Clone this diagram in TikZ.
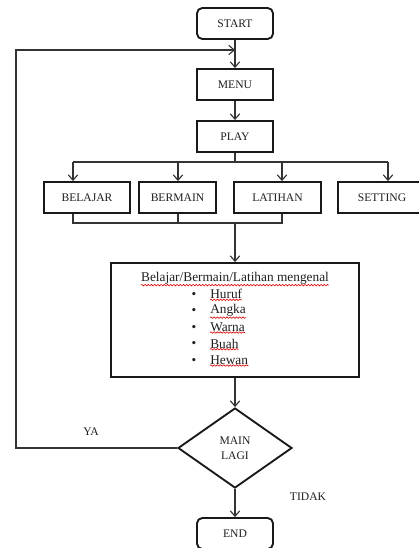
\documentclass[tikz,border=0pt]{standalone}
\usepackage{fontspec}
\setmainfont{Liberation Serif}
\usetikzlibrary{shapes.geometric,arrows.meta,decorations.pathmorphing}
\begin{document}
\begin{tikzpicture}[x=0.75pt,y=-0.75pt]
% gaya garis dan kotak
\tikzstyle{kotak} = [draw=black!90, line width=1.4pt, fill=white, text=black!88,
  font=\fontsize{8.7}{11.5}\selectfont, inner sep=0pt, minimum height=23.25pt]
\tikzstyle{kotakr} = [kotak, rounded corners=4pt]
\tikzstyle{pilihan} = [kotak, diamond, align=center, minimum width=85.5pt, minimum height=60pt]
\tikzstyle{panah} = [draw=black!80, line width=0.85pt, -{Straight Barb[length=4pt,width=7pt]}]
\tikzstyle{garis} = [draw=black!80, line width=0.85pt]
\tikzstyle{teks} = [text=black!88, font=\fontsize{10}{12}\selectfont, inner sep=0pt]
\tikzstyle{label} = [text=black!88, font=\fontsize{8.7}{10}\selectfont, inner sep=0pt]
\tikzstyle{salah} = [draw=red!85!black, line width=0.45pt, decorate,
  decoration={snake, segment length=2.4pt, amplitude=0.55pt}]
\useasboundingbox (0,0) rectangle (418,548);
% dibuat kotak proses
\node[kotakr, minimum width=57pt] (start) at (235,23.5) {START};
\node[kotak, minimum width=57pt] (menu) at (235,84.5) {MENU};
\node[kotak, minimum width=57pt] (play) at (235,136.5) {PLAY};
\node[kotak, minimum width=64.5pt] (belajar) at (87,197.5) {BELAJAR};
\node[kotak, minimum width=57.75pt] (bermain) at (177.5,197.5) {BERMAIN};
\node[kotak, minimum width=65.25pt] (latihan) at (277.5,197.5) {LATIHAN};
\node[kotak, minimum width=66pt] (setting) at (382,197.5) {SETTING};
\node[kotak, minimum width=186pt, minimum height=85.5pt] (materi) at (235,320) {};
\node[pilihan] (lagi) at (235,448) {MAIN\\LAGI};
\node[kotakr, minimum width=57pt] (end) at (235,533.5) {END};
% isi kotak materi
\node[teks] (judul) at (235,278) {Belajar/Bermain/Latihan mengenal};
\node[teks] (b1) at (194,295) {\textbullet};
\node[teks] (b2) at (194,311.5) {\textbullet};
\node[teks] (b3) at (194,328) {\textbullet};
\node[teks] (b4) at (194,344.5) {\textbullet};
\node[teks] (b5) at (194,361) {\textbullet};
\node[teks, anchor=west] (huruf) at (210,294) {Huruf};
\node[teks, anchor=west] (angka) at (210,310.5) {Angka};
\node[teks, anchor=west] (warna) at (210,327) {Warna};
\node[teks, anchor=west] (buah) at (210,343.5) {Buah};
\node[teks, anchor=west] (hewan) at (210,360) {Hewan};
% garis bawah ejaan
\draw[salah] ([yshift=-0.6pt]judul.south west) -- ([yshift=-0.6pt]judul.south east);
\draw[salah] ([yshift=-0.6pt]huruf.south west) -- ([yshift=-0.6pt]huruf.south east);
\draw[salah] ([yshift=-0.6pt]angka.south west) -- ([yshift=-0.6pt]angka.south east);
\draw[salah] ([yshift=-0.6pt]warna.south west) -- ([yshift=-0.6pt]warna.south east);
\draw[salah] ([yshift=-0.6pt]buah.south west) -- ([yshift=-0.6pt]buah.south east);
\draw[salah] ([yshift=-0.6pt]hewan.south west) -- ([yshift=-0.6pt]hewan.south east);
% titik cabang
\coordinate (c1) at (73,162);
\coordinate (c2) at (178,162);
\coordinate (c3) at (282,162);
\coordinate (c4) at (388,162);
\coordinate (g1) at (73,223);
\coordinate (g3) at (282,223);
\coordinate (gab) at (235,223);
\coordinate (kiri) at (16,50);
\coordinate (masuk) at (235,50);
% dibuat penghubung
\draw[panah] (start) -- (menu);
\draw[panah] (menu) -- (play);
\draw[garis] (play) -- (play |- c1);
\draw[garis] (c1) -- (c4);
\draw[panah] (c1) -- (c1 |- belajar.north);
\draw[panah] (c2) -- (c2 |- bermain.north);
\draw[panah] (c3) -- (c3 |- latihan.north);
\draw[panah] (c4) -- (c4 |- setting.north);
\draw[garis] (g1 |- belajar.south) -- (g1) -- (g3) -- (g3 |- latihan.south);
\draw[garis] (c2 |- bermain.south) -- (c2 |- g1);
\draw[panah] (gab) -- (materi);
\draw[panah] (materi) -- (lagi);
\draw[panah] (lagi.west) -| (kiri) -- (masuk);
\draw[panah] (lagi) -- (end);
% label keputusan
\node[label] (ya) at (91,432) {YA};
\node[label] (tidak) at (308,497) {TIDAK};
\end{tikzpicture}
\end{document}
